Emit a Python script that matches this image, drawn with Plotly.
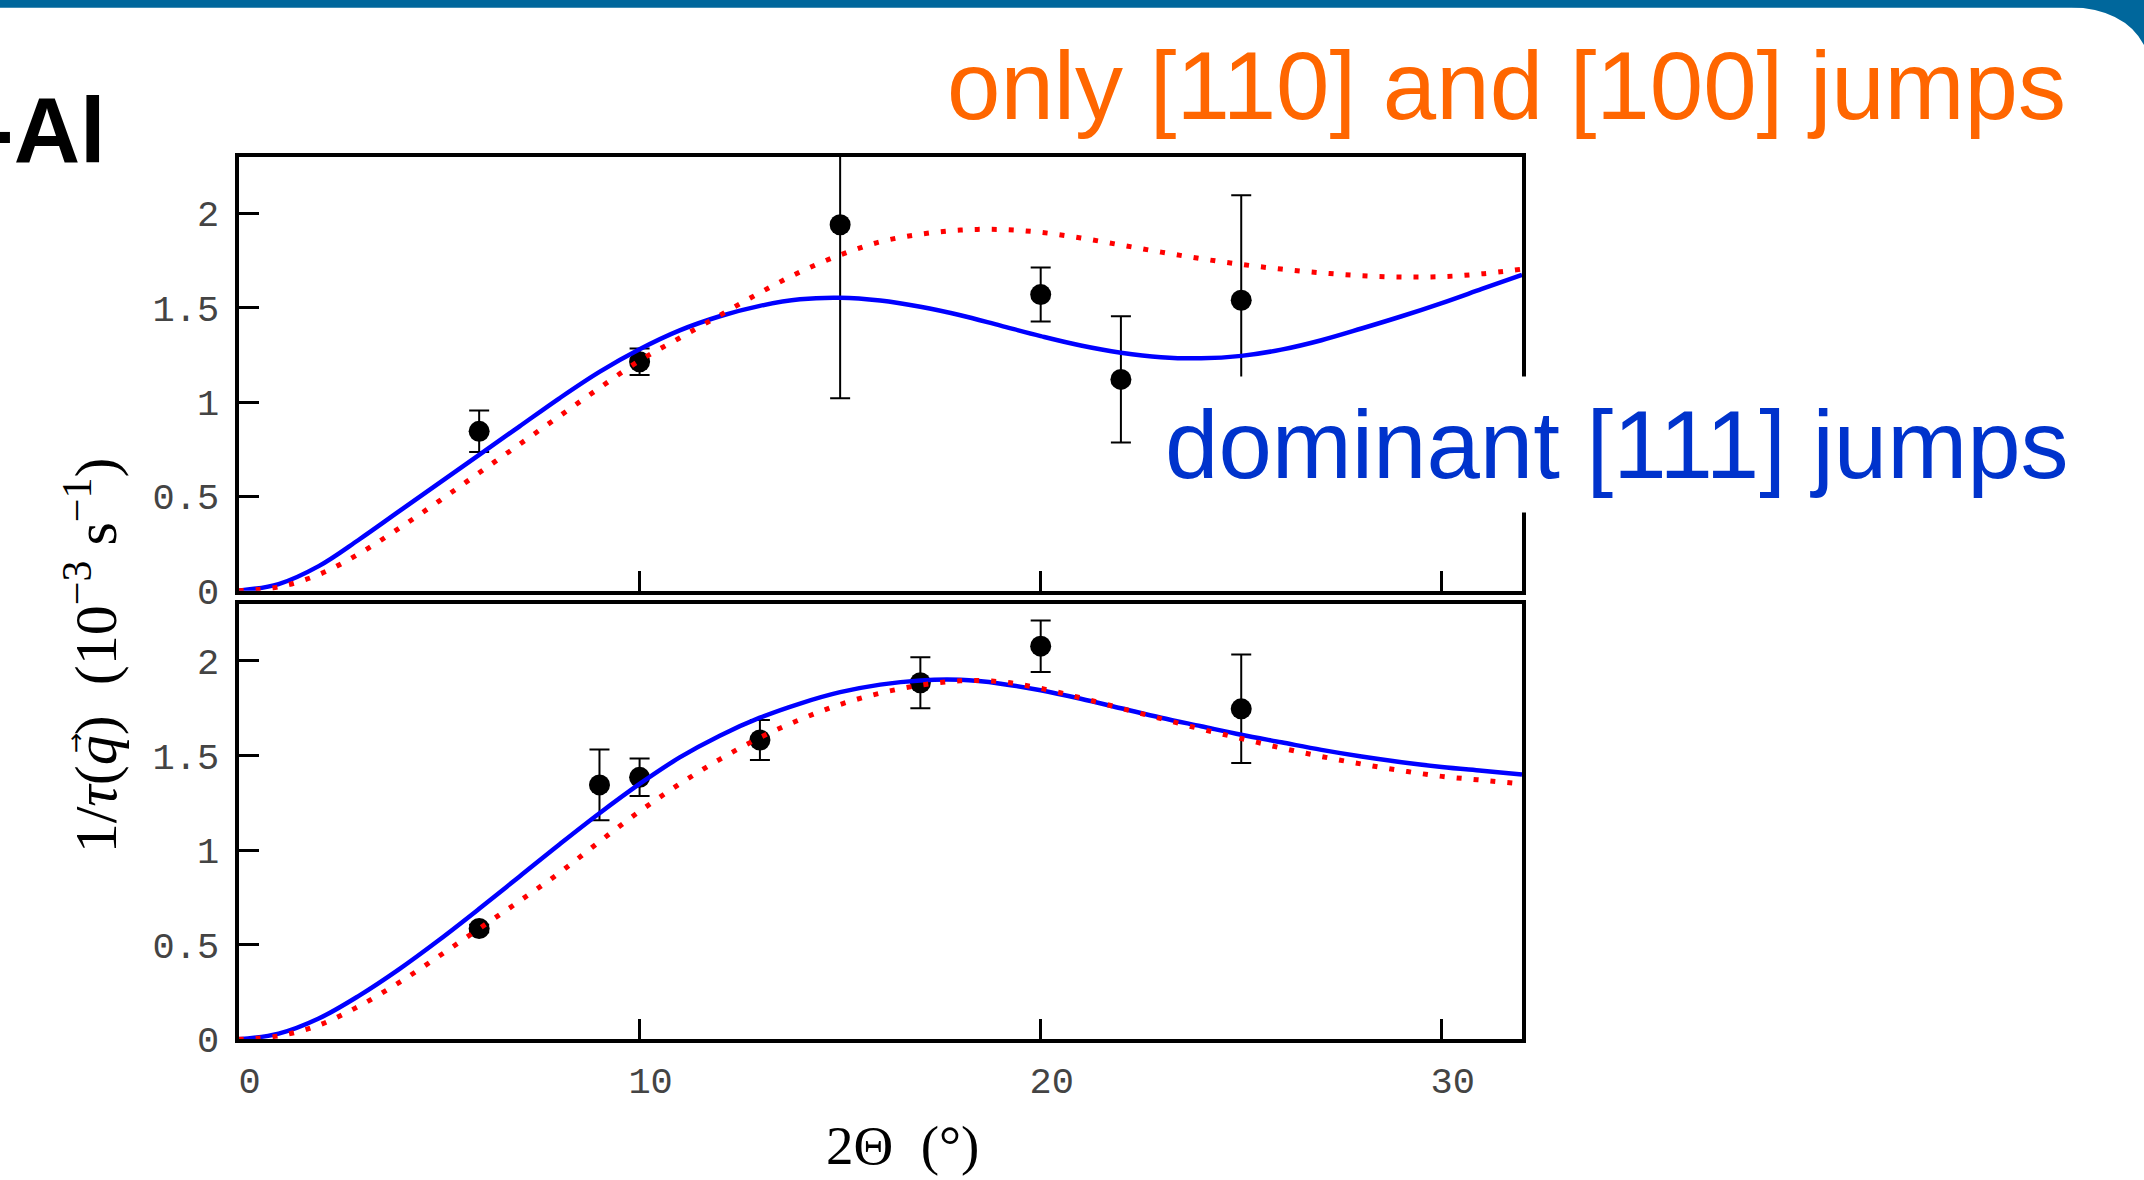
import plotly.graph_objects as go

W, H = 2144, 1180

# ---------------- data ----------------
theta_curve = list(range(0, 33))

top_blue = [0, 0.035, 0.13, 0.27, 0.42, 0.57, 0.72, 0.87, 1.02, 1.16, 1.28, 1.38, 1.455, 1.51,
            1.545, 1.553, 1.538, 1.505, 1.46, 1.405, 1.35, 1.30, 1.262, 1.238, 1.232, 1.245,
            1.278, 1.328, 1.39, 1.455, 1.525, 1.60, 1.675]
top_red = [0, 0.02, 0.085, 0.195, 0.33, 0.475, 0.625, 0.775, 0.925, 1.075, 1.22, 1.34, 1.46,
           1.58, 1.69, 1.78, 1.85, 1.89, 1.912, 1.915, 1.90, 1.87, 1.833, 1.795, 1.76, 1.73,
           1.705, 1.685, 1.67, 1.663, 1.665, 1.68, 1.705]
bottom_blue = [0, 0.03, 0.11, 0.23, 0.37, 0.525, 0.69, 0.86, 1.03, 1.195, 1.35, 1.49, 1.605,
               1.70, 1.775, 1.835, 1.875, 1.897, 1.90, 1.88, 1.845, 1.80, 1.75, 1.70, 1.655,
               1.61, 1.57, 1.53, 1.495, 1.465, 1.44, 1.42, 1.40]
bottom_red = [0, 0.018, 0.075, 0.175, 0.30, 0.44, 0.585, 0.73, 0.88, 1.045, 1.205, 1.35, 1.48,
              1.595, 1.69, 1.77, 1.83, 1.872, 1.895, 1.89, 1.855, 1.805, 1.75, 1.695, 1.64,
              1.59, 1.54, 1.495, 1.455, 1.42, 1.39, 1.37, 1.35]

top_x = [6, 10, 15, 20, 22, 25]
top_y = [0.845, 1.214, 1.94, 1.57, 1.12, 1.54]
top_err = [0.11, 0.07, 0.92, 0.143, 0.335, 0.557]

bottom_x = [6, 9, 10, 13, 17, 20, 25]
bottom_y = [0.586, 1.345, 1.385, 1.582, 1.885, 2.078, 1.747]
bottom_err = [0.02, 0.187, 0.099, 0.106, 0.135, 0.136, 0.287]

x_ticks = [0, 10, 20, 30]
x_ticktext = ["0", "10", "20", "30"]
y_ticks = [0, 0.5, 1, 1.5, 2]
y_ticktext = ["0", "0.5", "1", "1.5", "2"]

# ---------------- style ----------------
BLUE = "#0000FF"
RED = "#FF0000"
TICKFONT = dict(family="Liberation Mono", size=37, color="#444444")


def px_x(p):
    return p / W


def py(p):
    # vertical pixel (from top) -> paper fraction, with a small render correction
    return 1 - ((p + 1.7) / 0.9847) / H


fig = go.Figure()

for xa, ya, px_, py_, pe, cb, cr in [
    ("x", "y", top_x, top_y, top_err, top_blue, top_red),
    ("x2", "y2", bottom_x, bottom_y, bottom_err, bottom_blue, bottom_red),
]:
    fig.add_trace(go.Scatter(
        x=px_, y=py_, xaxis=xa, yaxis=ya, mode="markers",
        marker=dict(color="black", size=21),
        error_y=dict(type="data", array=pe, visible=True, color="black", thickness=2, width=10),
        showlegend=False))
    fig.add_trace(go.Scatter(
        x=theta_curve, y=cb, xaxis=xa, yaxis=ya, mode="lines",
        line=dict(color=BLUE, width=4.5, shape="spline", smoothing=1.0),
        showlegend=False))
    fig.add_trace(go.Scatter(
        x=theta_curve, y=cr, xaxis=xa, yaxis=ya, mode="lines",
        line=dict(color=RED, width=5, dash="5px,12px", shape="spline", smoothing=1.0),
        showlegend=False))

xdom = [px_x(238.5), px_x(1522)]
axis_common = dict(showline=True, mirror=True, linewidth=4, linecolor="black",
                   showgrid=False, zeroline=False, ticks="inside", tickwidth=3,
                   tickcolor="black", tickfont=TICKFONT, ticklen=20)

fig.update_layout(
    width=W, height=H,
    margin=dict(l=0, r=0, t=0, b=0),
    paper_bgcolor="white", plot_bgcolor="white",
    showlegend=False,
    xaxis=dict(domain=xdom, range=[0, 32], anchor="y", tickmode="array",
               tickvals=x_ticks, ticktext=x_ticktext, showticklabels=False, **axis_common),
    yaxis=dict(domain=[py(592), py(156)], range=[0, 2.3], anchor="x",
               tickmode="array", tickvals=y_ticks, ticktext=y_ticktext,
               ticklabelstandoff=8, **axis_common),
    xaxis2=dict(domain=xdom, range=[0, 32], anchor="y2", tickmode="array",
                tickvals=x_ticks, ticktext=x_ticktext,
                ticklabelstandoff=5, ticklabelshift=11, **axis_common),
    yaxis2=dict(domain=[py(1043), py(605.6)], range=[0, 2.3], anchor="x2",
                tickmode="array", tickvals=y_ticks, ticktext=y_ticktext,
                ticklabelstandoff=8, **axis_common),
)

# slide decoration: top bar and rounded corner
BAR = "#00679C"
fig.add_shape(type="rect", xref="paper", yref="paper", x0=0, x1=1, y0=1 - 8 / H, y1=1,
              fillcolor=BAR, line_width=0, layer="above")
fig.add_shape(type="path", xref="paper", yref="paper",
              path=(f"M {px_x(2068)},{1 - 7 / H} Q {px_x(2125)},{1 - 9 / H} "
                    f"{px_x(2144)},{1 - 46 / H} L 1,1 L {px_x(2068)},1 Z"),
              fillcolor=BAR, line_width=0, layer="above")

annotations = [
    dict(text="only [110] and [100] jumps", x=px_x(945), y=py(84), xanchor="left",
         yanchor="middle", font=dict(family="Liberation Sans", size=96, color="#FF6600")),
    dict(text="dominant [111] jumps", x=px_x(1150), y=py(445), xanchor="left",
         yanchor="middle", bgcolor="white", borderpad=14,
         font=dict(family="Liberation Sans", size=96, color="#0033CC")),
    dict(text="<b>-Al</b>", x=px_x(108), y=py(129.3), xanchor="right", yanchor="middle",
         font=dict(family="Liberation Sans", size=92, color="black")),
    dict(text="1/<i>τ</i>(<i>q</i>)\u00a0\u00a0(10<sup>−3</sup>\u00a0s<sup>−1</sup>)",
         x=px_x(91), y=py(657), xanchor="center", yanchor="middle", textangle=-90,
         font=dict(family="Liberation Serif", size=60, color="black")),
    dict(text="→", x=px_x(76), y=py(745), xanchor="center", yanchor="middle", textangle=-90,
         font=dict(family="DejaVu Sans", size=24, color="black")),
    dict(text="2Θ\u00a0\u00a0(°)", x=px_x(902), y=py(1150), xanchor="center",
         yanchor="middle", font=dict(family="Liberation Serif", size=55, color="black")),
]
for a in annotations:
    a.update(xref="paper", yref="paper", showarrow=False)
    fig.add_annotation(**a)

fig.write_html("out.html")
